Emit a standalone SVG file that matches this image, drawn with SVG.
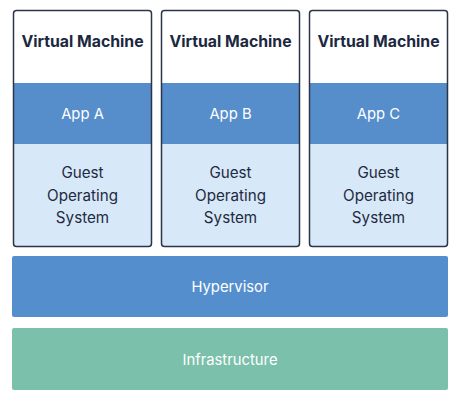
<svg xmlns="http://www.w3.org/2000/svg" width="458" height="402" viewBox="0 0 458 402">
<style>
.vm{fill:#ffffff}
.app{fill:#568dcb}
.os{fill:#d7e8f8}
.border{fill:none;stroke:#2c3547;stroke-width:1.5}
.title{font-family:"Inter","Liberation Sans",sans-serif;font-weight:700;font-size:15.8px;fill:#1b2840;text-anchor:middle}
.lbl{font-family:"Inter","Liberation Sans",sans-serif;font-size:14.8px;fill:#ffffff;text-anchor:middle}
.oslbl{font-family:"Inter","Liberation Sans",sans-serif;font-size:15.2px;fill:#1f2b40;text-anchor:middle}
</style>
<rect width="458" height="402" fill="#ffffff"/>
<g id="vm-a">
<rect class="vm" x="13.5" y="10.5" width="138" height="236" rx="3"/>
<rect class="app" x="13.5" y="83" width="138" height="61"/>
<rect class="os" x="13.5" y="144" width="138" height="102.5"/>
<rect class="border" x="13.5" y="10.5" width="138" height="236" rx="3"/>
<text class="title" x="82.5" y="46.5">Virtual Machine</text>
<text class="lbl" x="82.5" y="118.5">App A</text>
<text class="oslbl" x="82.5" y="177.5">Guest</text>
<text class="oslbl" x="82.5" y="200.5">Operating</text>
<text class="oslbl" x="82.5" y="222.5">System</text>
</g>
<g id="vm-b">
<rect class="vm" x="161.5" y="10.5" width="138" height="236" rx="3"/>
<rect class="app" x="161.5" y="83" width="138" height="61"/>
<rect class="os" x="161.5" y="144" width="138" height="102.5"/>
<rect class="border" x="161.5" y="10.5" width="138" height="236" rx="3"/>
<text class="title" x="230.5" y="46.5">Virtual Machine</text>
<text class="lbl" x="230.5" y="118.5">App B</text>
<text class="oslbl" x="230.5" y="177.5">Guest</text>
<text class="oslbl" x="230.5" y="200.5">Operating</text>
<text class="oslbl" x="230.5" y="222.5">System</text>
</g>
<g id="vm-c">
<rect class="vm" x="309.5" y="10.5" width="138" height="236" rx="3"/>
<rect class="app" x="309.5" y="83" width="138" height="61"/>
<rect class="os" x="309.5" y="144" width="138" height="102.5"/>
<rect class="border" x="309.5" y="10.5" width="138" height="236" rx="3"/>
<text class="title" x="378.5" y="46.5">Virtual Machine</text>
<text class="lbl" x="378.5" y="118.5">App C</text>
<text class="oslbl" x="378.5" y="177.5">Guest</text>
<text class="oslbl" x="378.5" y="200.5">Operating</text>
<text class="oslbl" x="378.5" y="222.5">System</text>
</g>
<g id="hypervisor">
<rect x="12" y="256" width="436" height="61" rx="2" fill="#558ecd"/>
<text class="lbl" x="230" y="291.5">Hypervisor</text>
</g>
<g id="infrastructure">
<rect x="12" y="328" width="436" height="62" rx="2" fill="#7ac0aa"/>
<text class="lbl" x="230" y="364.5">Infrastructure</text>
</g>
<g id="connectors"></g>
</svg>
